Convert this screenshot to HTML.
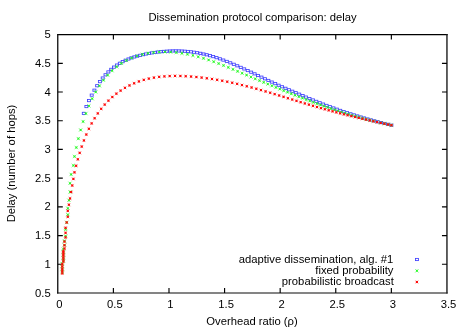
<!DOCTYPE html>
<html><head><meta charset="utf-8"><title>Dissemination protocol comparison: delay</title>
<style>html,body{margin:0;padding:0;background:#fff;}body{width:466px;height:327px;overflow:hidden;}svg{display:block;will-change:transform;opacity:0.999;}text{font-family:"Liberation Sans",sans-serif;font-size:11.25px;fill:#000;}</style></head><body>
<svg width="466" height="327" viewBox="0 0 466 327">
<rect width="466" height="327" fill="#fff"/>
<defs>
<g id="b"><rect x="-1.5" y="-1.1" width="3" height="2.2" fill="none" stroke="#4040ff" stroke-width="0.85"/></g>
<g id="g"><path d="M-1.7-1.7L1.7 1.7M-1.7 1.7L1.7-1.7" stroke="#28fa28" stroke-width="0.6" fill="none"/><rect x="-0.9" y="-0.9" width="1.8" height="1.8" fill="#28fa28"/></g>
<g id="r"><path d="M-1.6-1.6L1.6 1.6M-1.6 1.6L1.6-1.6" stroke="#ff3030" stroke-width="0.45" fill="none"/><rect x="-1.05" y="-1.05" width="2.1" height="2.1" fill="#ff0808"/></g>
</defs>
<g stroke="#000" fill="none">
<path d="M57.05 34.58H447.65" stroke-width="1.15"/>
<path d="M57.75 34V293.55" stroke-width="1.35" stroke="#141414"/>
<path d="M57.05 293H447.65" stroke-width="1.15" stroke="#0a0a0a"/>
<path d="M446.95 34V293.55" stroke-width="1.4" stroke="#1c1c1c"/>
<path stroke-width="1.15" d="M57.8 264.29h5.0M446.95 264.29h-5.0M57.8 235.58h5.0M446.95 235.58h-5.0M57.8 206.87h5.0M446.95 206.87h-5.0M57.8 178.16h5.0M446.95 178.16h-5.0M57.8 149.44h5.0M446.95 149.44h-5.0M57.8 120.73h5.0M446.95 120.73h-5.0M57.8 92.02h5.0M446.95 92.02h-5.0M57.8 63.31h5.0M446.95 63.31h-5.0M113.39 293v-5.0M113.39 34.6v5.0M168.99 293v-5.0M168.99 34.6v5.0M224.58 293v-5.0M224.58 34.6v5.0M280.17 293v-5.0M280.17 34.6v5.0M335.76 293v-5.0M335.76 34.6v5.0M391.36 293v-5.0M391.36 34.6v5.0"/>
</g>
<text x="50.7" y="296.6" text-anchor="end">0.5</text>
<text x="50.7" y="267.89" text-anchor="end">1</text>
<text x="50.7" y="239.18" text-anchor="end">1.5</text>
<text x="50.7" y="210.47" text-anchor="end">2</text>
<text x="50.7" y="181.76" text-anchor="end">2.5</text>
<text x="50.7" y="153.04" text-anchor="end">3</text>
<text x="50.7" y="124.33" text-anchor="end">3.5</text>
<text x="50.7" y="95.62" text-anchor="end">4</text>
<text x="50.7" y="66.91" text-anchor="end">4.5</text>
<text x="50.7" y="38.2" text-anchor="end">5</text>
<text x="59.3" y="308" text-anchor="middle">0</text>
<text x="114.89" y="308" text-anchor="middle">0.5</text>
<text x="170.49" y="308" text-anchor="middle">1</text>
<text x="226.08" y="308" text-anchor="middle">1.5</text>
<text x="281.67" y="308" text-anchor="middle">2</text>
<text x="337.26" y="308" text-anchor="middle">2.5</text>
<text x="392.86" y="308" text-anchor="middle">3</text>
<text x="448.45" y="308" text-anchor="middle">3.5</text>
<text x="252.5" y="21.2" text-anchor="middle">Dissemination protocol comparison: delay</text>
<text x="252" y="324.5" text-anchor="middle">Overhead ratio (ρ)</text>
<text transform="translate(15.3,163.5) rotate(-90)" text-anchor="middle">Delay (number of hops)</text>
<text x="393.2" y="262.9" text-anchor="end">adaptive dissemination, alg. #1</text>
<text x="393.5" y="274.1" text-anchor="end">fixed probability</text>
<text x="393.8" y="285.3" text-anchor="end">probabilistic broadcast</text>
<g><use href="#b" x="83.8" y="113.4"/><use href="#b" x="86.4" y="106.55"/><use href="#b" x="89.04" y="100.59"/><use href="#b" x="91.7" y="95.14"/><use href="#b" x="94.4" y="90.19"/><use href="#b" x="97.13" y="85.71"/><use href="#b" x="99.9" y="81.66"/><use href="#b" x="102.7" y="78.02"/><use href="#b" x="105.51" y="74.79"/><use href="#b" x="108.34" y="71.92"/><use href="#b" x="111.18" y="69.37"/><use href="#b" x="114.03" y="67.11"/><use href="#b" x="116.9" y="65.08"/><use href="#b" x="119.77" y="63.28"/><use href="#b" x="122.66" y="61.67"/><use href="#b" x="125.56" y="60.25"/><use href="#b" x="128.47" y="59"/><use href="#b" x="131.38" y="57.9"/><use href="#b" x="134.3" y="56.94"/><use href="#b" x="137.23" y="56.08"/><use href="#b" x="140.15" y="55.32"/><use href="#b" x="143.09" y="54.64"/><use href="#b" x="146.03" y="54.01"/><use href="#b" x="148.98" y="53.43"/><use href="#b" x="151.93" y="52.91"/><use href="#b" x="154.89" y="52.45"/><use href="#b" x="157.85" y="52.05"/><use href="#b" x="160.82" y="51.7"/><use href="#b" x="163.79" y="51.41"/><use href="#b" x="166.77" y="51.19"/><use href="#b" x="169.76" y="51.03"/><use href="#b" x="172.75" y="50.93"/><use href="#b" x="175.74" y="50.9"/><use href="#b" x="178.75" y="50.94"/><use href="#b" x="181.77" y="51.05"/><use href="#b" x="184.81" y="51.23"/><use href="#b" x="187.87" y="51.49"/><use href="#b" x="190.96" y="51.82"/><use href="#b" x="194.06" y="52.24"/><use href="#b" x="197.19" y="52.74"/><use href="#b" x="200.34" y="53.33"/><use href="#b" x="203.51" y="54.01"/><use href="#b" x="206.7" y="54.78"/><use href="#b" x="209.93" y="55.65"/><use href="#b" x="213.2" y="56.62"/><use href="#b" x="216.53" y="57.68"/><use href="#b" x="219.9" y="58.83"/><use href="#b" x="223.33" y="60.08"/><use href="#b" x="226.8" y="61.42"/><use href="#b" x="230.3" y="62.83"/><use href="#b" x="233.8" y="64.29"/><use href="#b" x="237.28" y="65.8"/><use href="#b" x="240.76" y="67.36"/><use href="#b" x="244.23" y="68.94"/><use href="#b" x="247.7" y="70.56"/><use href="#b" x="251.16" y="72.19"/><use href="#b" x="254.61" y="73.84"/><use href="#b" x="258.05" y="75.5"/><use href="#b" x="261.49" y="77.15"/><use href="#b" x="264.92" y="78.8"/><use href="#b" x="268.36" y="80.44"/><use href="#b" x="271.79" y="82.07"/><use href="#b" x="275.22" y="83.67"/><use href="#b" x="278.65" y="85.25"/><use href="#b" x="282.08" y="86.79"/><use href="#b" x="285.51" y="88.3"/><use href="#b" x="288.93" y="89.78"/><use href="#b" x="292.36" y="91.25"/><use href="#b" x="295.79" y="92.7"/><use href="#b" x="299.21" y="94.17"/><use href="#b" x="302.64" y="95.63"/><use href="#b" x="306.06" y="97.09"/><use href="#b" x="309.48" y="98.54"/><use href="#b" x="312.91" y="99.97"/><use href="#b" x="316.33" y="101.38"/><use href="#b" x="319.75" y="102.75"/><use href="#b" x="323.17" y="104.1"/><use href="#b" x="326.59" y="105.42"/><use href="#b" x="330" y="106.71"/><use href="#b" x="333.42" y="107.97"/><use href="#b" x="336.84" y="109.2"/><use href="#b" x="340.25" y="110.4"/><use href="#b" x="343.67" y="111.57"/><use href="#b" x="347.08" y="112.72"/><use href="#b" x="350.5" y="113.84"/><use href="#b" x="353.91" y="114.92"/><use href="#b" x="357.32" y="115.98"/><use href="#b" x="360.73" y="117.02"/><use href="#b" x="364.14" y="118.02"/><use href="#b" x="367.55" y="119"/><use href="#b" x="370.96" y="119.95"/><use href="#b" x="374.37" y="120.87"/><use href="#b" x="377.78" y="121.76"/><use href="#b" x="381.18" y="122.63"/><use href="#b" x="384.59" y="123.47"/><use href="#b" x="388" y="124.29"/><use href="#b" x="391.4" y="125.2"/><use href="#b" x="417" y="259.5"/></g>
<g><use href="#g" x="62.25" y="272.35"/><use href="#g" x="62.25" y="269.43"/><use href="#g" x="62.25" y="266.51"/><use href="#g" x="62.25" y="263.58"/><use href="#g" x="63.36" y="260.85"/><use href="#g" x="63.36" y="258.05"/><use href="#g" x="63.36" y="255.13"/><use href="#g" x="63.36" y="252.34"/><use href="#g" x="63.36" y="249.03"/><use href="#g" x="64.47" y="245.03"/><use href="#g" x="64.47" y="240.84"/><use href="#g" x="65.58" y="236.03"/><use href="#g" x="65.58" y="229.43"/><use href="#g" x="66.7" y="222.44"/><use href="#g" x="67.81" y="214.7"/><use href="#g" x="67.81" y="208.33"/><use href="#g" x="68.92" y="200.3"/><use href="#g" x="70.03" y="191.93"/><use href="#g" x="70.03" y="183.28"/><use href="#g" x="71.14" y="174.44"/><use href="#g" x="73.37" y="165.47"/><use href="#g" x="74.48" y="156.46"/><use href="#g" x="76.32" y="147.49"/><use href="#g" x="78.36" y="138.63"/><use href="#g" x="80.63" y="129.96"/><use href="#g" x="83.14" y="121.56"/><use href="#g" x="85.91" y="113.51"/><use href="#g" x="88.93" y="105.86"/><use href="#g" x="92.21" y="98.68"/><use href="#g" x="95.72" y="91.98"/><use href="#g" x="99.47" y="85.81"/><use href="#g" x="103.45" y="80.19"/><use href="#g" x="107.65" y="75.15"/><use href="#g" x="112.06" y="70.68"/><use href="#g" x="116.67" y="66.75"/><use href="#g" x="121.47" y="63.34"/><use href="#g" x="126.46" y="60.43"/><use href="#g" x="131.63" y="57.98"/><use href="#g" x="136.95" y="55.99"/><use href="#g" x="142.4" y="54.42"/><use href="#g" x="147.94" y="53.26"/><use href="#g" x="153.57" y="52.47"/><use href="#g" x="159.24" y="52.03"/><use href="#g" x="164.94" y="51.92"/><use href="#g" x="170.64" y="52.11"/><use href="#g" x="176.31" y="52.58"/><use href="#g" x="181.93" y="53.31"/><use href="#g" x="187.47" y="54.27"/><use href="#g" x="192.91" y="55.44"/><use href="#g" x="198.25" y="56.79"/><use href="#g" x="203.5" y="58.3"/><use href="#g" x="208.64" y="59.94"/><use href="#g" x="213.69" y="61.7"/><use href="#g" x="218.65" y="63.54"/><use href="#g" x="223.52" y="65.45"/><use href="#g" x="228.3" y="67.39"/><use href="#g" x="232.99" y="69.35"/><use href="#g" x="237.6" y="71.3"/><use href="#g" x="242.14" y="73.22"/><use href="#g" x="246.59" y="75.11"/><use href="#g" x="250.97" y="76.97"/><use href="#g" x="255.28" y="78.79"/><use href="#g" x="259.52" y="80.58"/><use href="#g" x="263.69" y="82.33"/><use href="#g" x="267.8" y="84.06"/><use href="#g" x="271.86" y="85.75"/><use href="#g" x="275.85" y="87.41"/><use href="#g" x="279.79" y="89.04"/><use href="#g" x="283.68" y="90.64"/><use href="#g" x="287.53" y="92.2"/><use href="#g" x="291.33" y="93.74"/><use href="#g" x="295.09" y="95.24"/><use href="#g" x="298.81" y="96.72"/><use href="#g" x="302.49" y="98.16"/><use href="#g" x="306.15" y="99.58"/><use href="#g" x="309.77" y="100.96"/><use href="#g" x="313.37" y="102.32"/><use href="#g" x="316.94" y="103.64"/><use href="#g" x="320.5" y="104.94"/><use href="#g" x="324.03" y="106.21"/><use href="#g" x="327.56" y="107.45"/><use href="#g" x="331.07" y="108.66"/><use href="#g" x="334.57" y="109.84"/><use href="#g" x="338.07" y="111"/><use href="#g" x="341.57" y="112.13"/><use href="#g" x="345.07" y="113.23"/><use href="#g" x="348.57" y="114.3"/><use href="#g" x="352.08" y="115.35"/><use href="#g" x="355.6" y="116.37"/><use href="#g" x="359.13" y="117.36"/><use href="#g" x="362.68" y="118.33"/><use href="#g" x="366.25" y="119.27"/><use href="#g" x="369.84" y="120.18"/><use href="#g" x="373.45" y="121.07"/><use href="#g" x="377.1" y="121.93"/><use href="#g" x="380.77" y="122.77"/><use href="#g" x="384.48" y="123.59"/><use href="#g" x="388.23" y="124.37"/><use href="#g" x="391.4" y="125.2"/><use href="#g" x="416.9" y="270.8"/></g>
<g><use href="#r" x="62.25" y="273.4"/><use href="#r" x="62.25" y="271.1"/><use href="#r" x="62.25" y="268.8"/><use href="#r" x="62.25" y="266.5"/><use href="#r" x="62.25" y="264.2"/><use href="#r" x="63.36" y="261.6"/><use href="#r" x="63.36" y="259.4"/><use href="#r" x="63.36" y="257.2"/><use href="#r" x="63.36" y="255"/><use href="#r" x="63.36" y="252.9"/><use href="#r" x="63.36" y="251.12"/><use href="#r" x="64.47" y="248.51"/><use href="#r" x="64.47" y="245.33"/><use href="#r" x="64.47" y="241.62"/><use href="#r" x="65.58" y="237.44"/><use href="#r" x="65.58" y="232.82"/><use href="#r" x="65.58" y="227.8"/><use href="#r" x="66.7" y="222.45"/><use href="#r" x="67.81" y="216.79"/><use href="#r" x="67.81" y="210.87"/><use href="#r" x="68.92" y="204.74"/><use href="#r" x="70.03" y="198.43"/><use href="#r" x="71.14" y="192"/><use href="#r" x="72.25" y="185.49"/><use href="#r" x="73.37" y="178.92"/><use href="#r" x="74.48" y="172.34"/><use href="#r" x="76.13" y="165.79"/><use href="#r" x="77.84" y="159.28"/><use href="#r" x="79.7" y="152.87"/><use href="#r" x="81.73" y="146.59"/><use href="#r" x="83.93" y="140.46"/><use href="#r" x="86.32" y="134.53"/><use href="#r" x="88.89" y="128.82"/><use href="#r" x="91.66" y="123.39"/><use href="#r" x="94.64" y="118.24"/><use href="#r" x="97.8" y="113.39"/><use href="#r" x="101.16" y="108.85"/><use href="#r" x="104.71" y="104.6"/><use href="#r" x="108.43" y="100.65"/><use href="#r" x="112.32" y="97.01"/><use href="#r" x="116.38" y="93.66"/><use href="#r" x="120.6" y="90.61"/><use href="#r" x="124.97" y="87.87"/><use href="#r" x="129.48" y="85.42"/><use href="#r" x="134.13" y="83.28"/><use href="#r" x="138.91" y="81.44"/><use href="#r" x="143.82" y="79.89"/><use href="#r" x="148.84" y="78.63"/><use href="#r" x="153.95" y="77.64"/><use href="#r" x="159.14" y="76.89"/><use href="#r" x="164.4" y="76.37"/><use href="#r" x="169.7" y="76.06"/><use href="#r" x="175.03" y="75.94"/><use href="#r" x="180.38" y="76"/><use href="#r" x="185.73" y="76.21"/><use href="#r" x="191.07" y="76.56"/><use href="#r" x="196.37" y="77.02"/><use href="#r" x="201.63" y="77.59"/><use href="#r" x="206.84" y="78.26"/><use href="#r" x="212" y="79.01"/><use href="#r" x="217.12" y="79.85"/><use href="#r" x="222.19" y="80.76"/><use href="#r" x="227.21" y="81.74"/><use href="#r" x="232.18" y="82.79"/><use href="#r" x="237.1" y="83.89"/><use href="#r" x="241.98" y="85.05"/><use href="#r" x="246.8" y="86.26"/><use href="#r" x="251.57" y="87.5"/><use href="#r" x="256.3" y="88.78"/><use href="#r" x="260.97" y="90.09"/><use href="#r" x="265.59" y="91.42"/><use href="#r" x="270.16" y="92.77"/><use href="#r" x="274.68" y="94.13"/><use href="#r" x="279.15" y="95.49"/><use href="#r" x="283.56" y="96.85"/><use href="#r" x="287.92" y="98.2"/><use href="#r" x="292.23" y="99.54"/><use href="#r" x="296.49" y="100.87"/><use href="#r" x="300.69" y="102.16"/><use href="#r" x="304.84" y="103.43"/><use href="#r" x="308.93" y="104.65"/><use href="#r" x="312.98" y="105.85"/><use href="#r" x="316.97" y="107.01"/><use href="#r" x="320.93" y="108.13"/><use href="#r" x="324.84" y="109.22"/><use href="#r" x="328.71" y="110.29"/><use href="#r" x="332.55" y="111.32"/><use href="#r" x="336.35" y="112.33"/><use href="#r" x="340.13" y="113.32"/><use href="#r" x="343.88" y="114.28"/><use href="#r" x="347.61" y="115.22"/><use href="#r" x="351.32" y="116.13"/><use href="#r" x="355.02" y="117.03"/><use href="#r" x="358.7" y="117.91"/><use href="#r" x="362.37" y="118.78"/><use href="#r" x="366.04" y="119.63"/><use href="#r" x="369.7" y="120.46"/><use href="#r" x="373.37" y="121.29"/><use href="#r" x="377.04" y="122.1"/><use href="#r" x="380.71" y="122.91"/><use href="#r" x="384.4" y="123.71"/><use href="#r" x="388.1" y="124.51"/><use href="#r" x="391.4" y="125.2"/><use href="#r" x="416.9" y="282"/></g>
</svg></body></html>
